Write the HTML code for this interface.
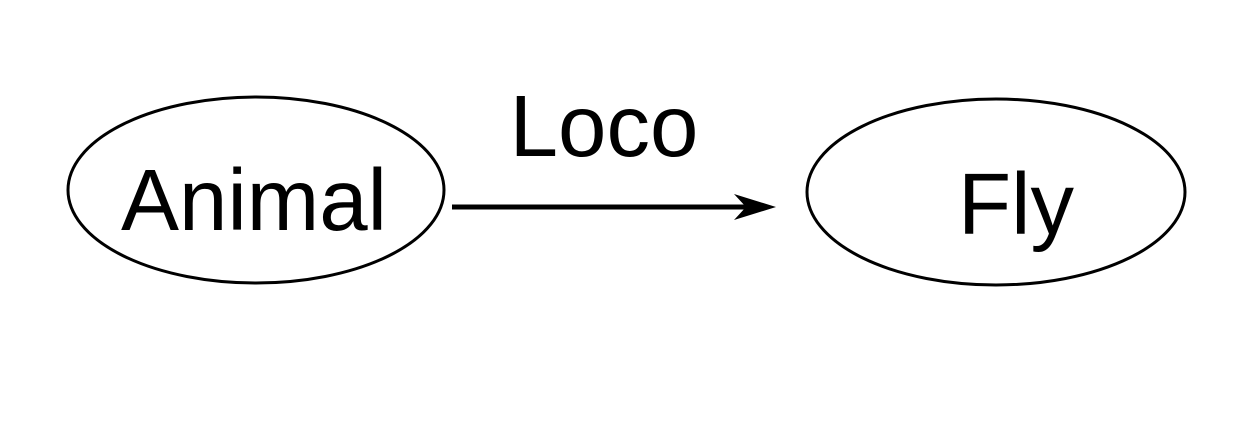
<!DOCTYPE html>
<html><head><style>html,body{margin:0;padding:0;background:#fff;}</style></head>
<body>
<svg width="1250" height="416" xmlns="http://www.w3.org/2000/svg">
<rect width="1250" height="416" fill="#fff"/>
<ellipse cx="256" cy="190" rx="188" ry="93" fill="none" stroke="#000" stroke-width="3"/>
<ellipse cx="996" cy="192" rx="189" ry="93" fill="none" stroke="#000" stroke-width="3"/>
<text x="254" y="230" font-family="Liberation Sans, sans-serif" font-size="87" text-anchor="middle">Animal</text>
<text x="1016" y="234" font-family="Liberation Sans, sans-serif" font-size="87" text-anchor="middle">Fly</text>
<text x="604" y="156" font-family="Liberation Sans, sans-serif" font-size="87" text-anchor="middle">Loco</text>
<line x1="452" y1="207" x2="760" y2="207" stroke="#000" stroke-width="5"/>
<polygon points="776,207 734,194 746,207 734,220" fill="#000"/>
</svg>
</body></html>
